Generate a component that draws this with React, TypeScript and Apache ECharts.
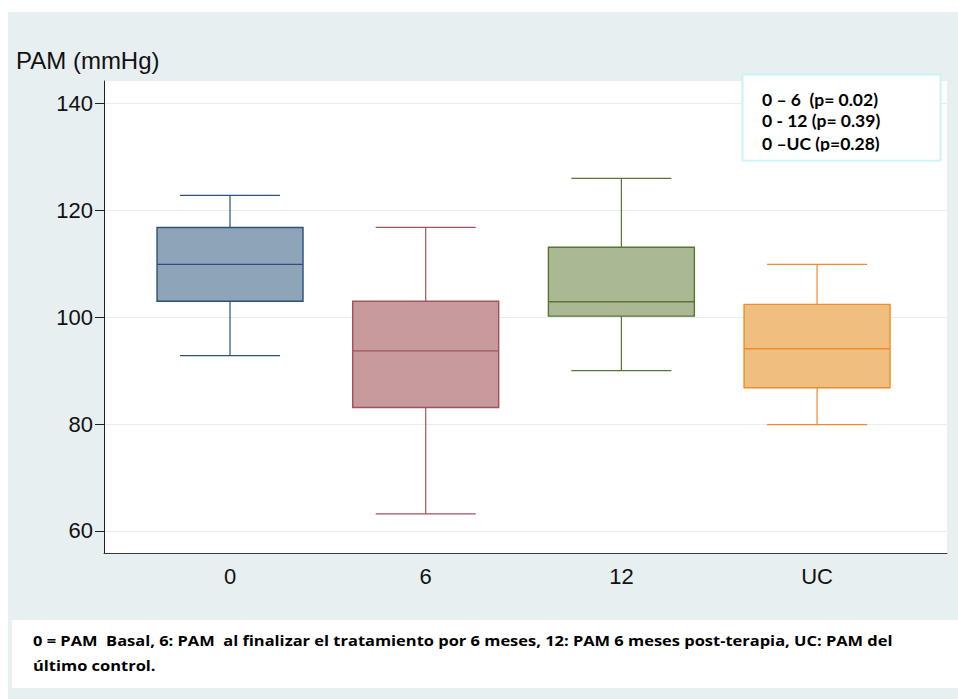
import React, { useEffect, useRef } from "react";
import * as echarts from "echarts";

const categories = ["0", "6", "12", "UC"];
const whiskerLow = [92.8, 63.2, 90, 79.9];
const q1Values = [103, 83.1, 100.2, 86.8];
const medianValues = [109.9, 93.7, 102.9, 94.1];
const q3Values = [116.8, 103, 113.1, 102.4];
const whiskerHigh = [122.8, 116.8, 126, 109.9];
const yTicks = [60, 80, 100, 120, 140];
const xTicks = [0, 1, 2, 3];

const legendLines = ["0 – 6  (p= 0.02)", "0 - 12 (p= 0.39)", "0 –UC (p=0.28)"];
const footnoteLines = [
  "0 = PAM  Basal, 6: PAM  al finalizar el tratamiento por 6 meses, 12: PAM 6 meses post-terapia, UC: PAM del",
  "último control.",
];

const fills = ["#8EA4B8", "#C79A9D", "#AAB894", "#F0BF80"];
const strokes = ["#2B5079", "#A4525A", "#5A7339", "#EE8C2A"];

const BOX_W = 0.746;
const CAP_W = 0.511;

export default function App() {
  const ref = useRef<HTMLDivElement>(null);

  useEffect(() => {
    if (!ref.current) return;
    const chart = echarts.init(ref.current, undefined, { renderer: "svg" });

    const data = categories.map((_, i) => [
      i,
      whiskerLow[i],
      q1Values[i],
      medianValues[i],
      q3Values[i],
      whiskerHigh[i],
    ]);

    const option: any = {
      animation: false,
      backgroundColor: "#FFFFFF",
      grid: {
        left: 104,
        top: 81,
        right: 11,
        bottom: 146,
        show: true,
        backgroundColor: "#FFFFFF",
        borderWidth: 0,
      },
      xAxis: {
        type: "value",
        min: -0.644,
        max: 3.664,
        axisLine: { show: true, onZero: false, lineStyle: { color: "#3A3A3A", width: 1 } },
        axisTick: { show: false },
        splitLine: { show: false },
        axisLabel: {
          customValues: xTicks,
          formatter: (v: number) => categories[Math.round(v)] ?? "",
          fontFamily: "Liberation Sans",
          fontSize: 22,
          color: "#111111",
          margin: 12,
        },
      },
      yAxis: {
        type: "value",
        min: 55.88,
        max: 144.21,
        axisLine: { show: true, onZero: false, lineStyle: { color: "#222222", width: 1 } },
        axisTick: {
          show: true,
          customValues: yTicks,
          length: 9,
          lineStyle: { color: "#222222", width: 1 },
        },
        axisLabel: {
          customValues: yTicks,
          fontFamily: "Liberation Sans",
          fontSize: 22,
          color: "#111111",
          margin: 11,
        },
        splitLine: { show: true, lineStyle: { color: "#E6EEEE", width: 1 } },
      },
      series: [
        {
          type: "custom",
          data,
          encode: { x: 0, y: [1, 2, 3, 4, 5] },
          renderItem: (params: any, api: any) => {
            const i = api.value(0);
            const fill = fills[i];
            const stroke = strokes[i];
            const [cx, yMin] = api.coord([i, api.value(1)]);
            const yQ1 = api.coord([i, api.value(2)])[1];
            const yMed = api.coord([i, api.value(3)])[1];
            const yQ3 = api.coord([i, api.value(4)])[1];
            const yMax = api.coord([i, api.value(5)])[1];
            const halfBox = api.size([BOX_W, 0])[0] / 2;
            const halfCap = api.size([CAP_W, 0])[0] / 2;
            const lineStyle = { stroke, lineWidth: 1.2 };
            return {
              type: "group",
              children: [
                { type: "line", shape: { x1: cx, y1: yMax, x2: cx, y2: yQ3 }, style: lineStyle },
                { type: "line", shape: { x1: cx, y1: yQ1, x2: cx, y2: yMin }, style: lineStyle },
                { type: "line", shape: { x1: cx - halfCap, y1: yMax, x2: cx + halfCap, y2: yMax }, style: lineStyle },
                { type: "line", shape: { x1: cx - halfCap, y1: yMin, x2: cx + halfCap, y2: yMin }, style: lineStyle },
                {
                  type: "rect",
                  shape: { x: cx - halfBox, y: yQ3, width: halfBox * 2, height: yQ1 - yQ3 },
                  style: { fill, stroke, lineWidth: 1.4 },
                },
                { type: "line", shape: { x1: cx - halfBox, y1: yMed, x2: cx + halfBox, y2: yMed }, style: { stroke, lineWidth: 1.4 } },
              ],
            };
          },
        },
      ],
      graphic: [
        {
          type: "rect",
          z: -100,
          shape: { x: 8, y: 12, width: 950, height: 687 },
          style: { fill: "#E8EFF1" },
          silent: true,
        },
        {
          type: "text",
          x: 16,
          y: 60,
          style: {
            text: "PAM (mmHg)",
            font: "24px 'Liberation Sans'",
            fill: "#111111",
            verticalAlign: "middle",
          },
        },
        {
          type: "rect",
          z: 10,
          shape: { x: 742.5, y: 74.5, width: 198, height: 86 },
          style: { fill: "#FFFFFF", stroke: "#C9F3F6", lineWidth: 2 },
        },
        ...legendLines.map((t, k) => ({
          type: "text",
          z: 11,
          x: 762,
          y: [99, 120, 143][k],
          style: {
            text: t,
            font: "bold 17.5px Lato",
            fill: "#000000",
            verticalAlign: "middle",
          },
        })),
        {
          type: "rect",
          z: 12,
          shape: { x: 744, y: 151.5, width: 195, height: 8 },
          style: { fill: "#FFFFFF" },
        },
        {
          type: "rect",
          z: 10,
          shape: { x: 12, y: 620, width: 946, height: 68 },
          style: { fill: "#FFFFFF" },
        },
        ...footnoteLines.map((t, k) => ({
          type: "text",
          z: 11,
          x: 33,
          y: [641, 666][k],
          scaleX: 1.176,
          style: {
            text: t,
            font: "bold 14px 'Open Sans'",
            fill: "#000000",
            verticalAlign: "middle",
          },
        })),
      ],
    };

    chart.setOption(option);
    return () => chart.dispose();
  }, []);

  return (
    <div
      ref={ref}
      style={{ position: "fixed", left: 0, top: 0, width: 958, height: 699 }}
    />
  );
}
